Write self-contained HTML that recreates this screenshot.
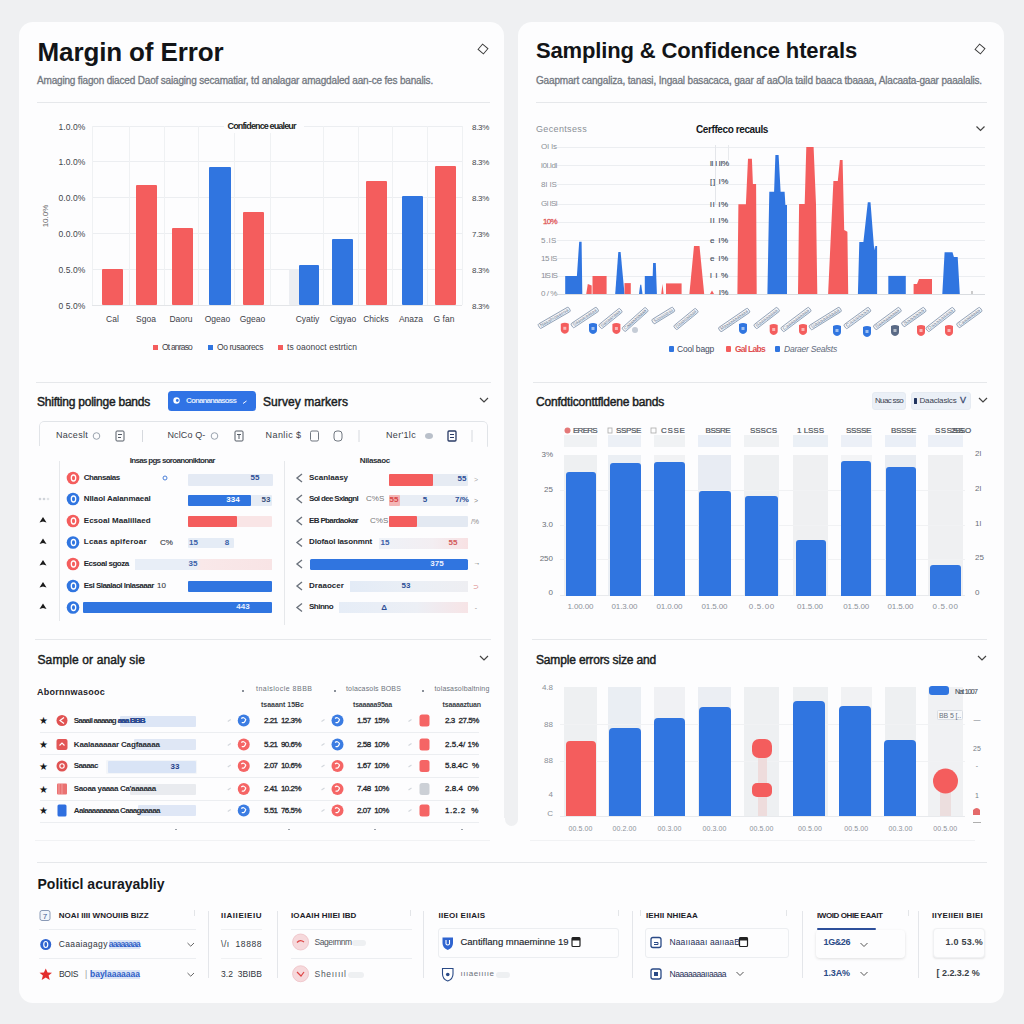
<!DOCTYPE html>
<html><head><meta charset="utf-8"><title>Dashboard</title><style>
html,body{margin:0;padding:0;width:1024px;height:1024px;overflow:hidden;background:#eff0f2;font-family:"Liberation Sans",sans-serif;}
.a{position:absolute}
.t{white-space:pre}
svg{position:absolute;left:0;top:0;overflow:visible}
</style></head><body>
<div class="a" style="left:19.00px;top:22.00px;width:485.00px;height:981.00px;background:#fdfdfe;border-radius:14px 14px 0 14px;"></div>
<div class="a" style="left:518.00px;top:22.00px;width:486.00px;height:981.00px;background:#fdfdfe;border-radius:14px 14px 14px 0px;"></div>
<div class="a" style="left:498.00px;top:818.00px;width:26.00px;height:185.00px;background:#fdfdfe;"></div>
<div class="a" style="left:504.50px;top:600.00px;width:13.50px;height:226.00px;background:#eff0f2;border-radius:7px;"></div>
<div class="a t" style="left:37.50px;top:38.99px;font:bold 26px/26px 'Liberation Sans',sans-serif;color:#121417;letter-spacing:-0.120px;">Margin of Error</div>
<div class="a t" style="left:37.00px;top:75.53px;font:normal 10px/10px 'Liberation Sans',sans-serif;color:#737881;letter-spacing:-0.173px;-webkit-text-stroke:0.3px #737881;">Amaging fiagon diaced Daof saiaging secamatiar, td analagar amagdaled aan-ce fes banalis.</div>
<svg width="1024" height="1024"><rect x="479.5" y="45.5" width="7" height="7" transform="rotate(40 483 49)" fill="none" stroke="#3a3a3a" stroke-width="0.95"/></svg>
<div class="a" style="left:37.00px;top:101.50px;width:453.00px;height:1.00px;background:#e6e8eb;"></div>
<div class="a" style="left:92.00px;top:125.50px;width:370.00px;height:1.00px;background:#eceef1;"></div>
<div class="a" style="left:92.00px;top:160.50px;width:370.00px;height:1.00px;background:#eceef1;"></div>
<div class="a" style="left:92.00px;top:196.50px;width:370.00px;height:1.00px;background:#eceef1;"></div>
<div class="a" style="left:92.00px;top:232.50px;width:370.00px;height:1.00px;background:#eceef1;"></div>
<div class="a" style="left:92.00px;top:268.50px;width:370.00px;height:1.00px;background:#eceef1;"></div>
<div class="a" style="left:92.00px;top:304.50px;width:370.00px;height:1.00px;background:#e3e5e8;"></div>
<div class="a" style="left:91.50px;top:126.00px;width:1.00px;height:179.00px;background:#eff1f3;"></div>
<div class="a" style="left:129.00px;top:126.00px;width:1.00px;height:179.00px;background:#eff1f3;"></div>
<div class="a" style="left:163.50px;top:126.00px;width:1.00px;height:179.00px;background:#eff1f3;"></div>
<div class="a" style="left:198.00px;top:126.00px;width:1.00px;height:179.00px;background:#eff1f3;"></div>
<div class="a" style="left:233.50px;top:126.00px;width:1.00px;height:179.00px;background:#eff1f3;"></div>
<div class="a" style="left:269.50px;top:126.00px;width:1.00px;height:179.00px;background:#eff1f3;"></div>
<div class="a" style="left:323.25px;top:126.00px;width:1.00px;height:179.00px;background:#eff1f3;"></div>
<div class="a" style="left:358.25px;top:126.00px;width:1.00px;height:179.00px;background:#eff1f3;"></div>
<div class="a" style="left:392.00px;top:126.00px;width:1.00px;height:179.00px;background:#eff1f3;"></div>
<div class="a" style="left:427.00px;top:126.00px;width:1.00px;height:179.00px;background:#eff1f3;"></div>
<div class="a" style="left:461.50px;top:126.00px;width:1.00px;height:179.00px;background:#eff1f3;"></div>
<div class="a t" style="left:-514.50px;width:600px;text-align:right;top:123.30px;font:normal 8.5px/8.5px 'Liberation Sans',sans-serif;color:#42464c;letter-spacing:0.089px;margin-right:-0.089px;">1.0.0%</div>
<div class="a t" style="left:-514.50px;width:600px;text-align:right;top:158.30px;font:normal 8.5px/8.5px 'Liberation Sans',sans-serif;color:#42464c;letter-spacing:0.089px;margin-right:-0.089px;">1.0.0%</div>
<div class="a t" style="left:-514.50px;width:600px;text-align:right;top:194.30px;font:normal 8.5px/8.5px 'Liberation Sans',sans-serif;color:#42464c;letter-spacing:0.089px;margin-right:-0.089px;">0.0.0%</div>
<div class="a t" style="left:-514.50px;width:600px;text-align:right;top:230.30px;font:normal 8.5px/8.5px 'Liberation Sans',sans-serif;color:#42464c;letter-spacing:0.089px;margin-right:-0.089px;">0.0.0%</div>
<div class="a t" style="left:-514.50px;width:600px;text-align:right;top:266.30px;font:normal 8.5px/8.5px 'Liberation Sans',sans-serif;color:#42464c;letter-spacing:0.089px;margin-right:-0.089px;">0.5.0%</div>
<div class="a t" style="left:-514.50px;width:600px;text-align:right;top:302.30px;font:normal 8.5px/8.5px 'Liberation Sans',sans-serif;color:#42464c;letter-spacing:0.089px;margin-right:-0.089px;">0 5.0%</div>
<div class="a t" style="left:472.00px;top:123.73px;font:normal 8px/8px 'Liberation Sans',sans-serif;color:#42464c;letter-spacing:-0.309px;">8.3%</div>
<div class="a t" style="left:472.00px;top:158.73px;font:normal 8px/8px 'Liberation Sans',sans-serif;color:#42464c;letter-spacing:-0.309px;">8.3%</div>
<div class="a t" style="left:472.00px;top:194.73px;font:normal 8px/8px 'Liberation Sans',sans-serif;color:#42464c;letter-spacing:-0.309px;">8.3%</div>
<div class="a t" style="left:472.00px;top:230.73px;font:normal 8px/8px 'Liberation Sans',sans-serif;color:#42464c;letter-spacing:-0.309px;">7.3%</div>
<div class="a t" style="left:472.00px;top:266.73px;font:normal 8px/8px 'Liberation Sans',sans-serif;color:#42464c;letter-spacing:-0.309px;">8.3%</div>
<div class="a t" style="left:472.00px;top:302.73px;font:normal 8px/8px 'Liberation Sans',sans-serif;color:#42464c;letter-spacing:-0.309px;">8.3%</div>
<div class="a t" style="left:-254.00px;width:600px;text-align:center;top:212.23px;font:normal 8px/8px 'Liberation Sans',sans-serif;color:#666;transform:rotate(-90deg);">10.0%</div>
<div class="a" style="left:224.00px;top:120.00px;width:80.00px;height:13.00px;background:#fdfdfe;"></div>
<div class="a t" style="left:-38.00px;width:600px;text-align:center;top:122.38px;font:bold 9px/9px 'Liberation Sans',sans-serif;color:#1c1f24;letter-spacing:-0.863px;text-indent:-0.863px;">Confidence eualeur</div>
<div class="a" style="left:102.00px;top:269.00px;width:20.50px;height:36.00px;background:#f45d5d;border-radius:1px;"></div>
<div class="a" style="left:136.00px;top:185.00px;width:21.00px;height:120.00px;background:#f45d5d;border-radius:1px;"></div>
<div class="a" style="left:172.00px;top:228.00px;width:21.00px;height:77.00px;background:#f45d5d;border-radius:1px;"></div>
<div class="a" style="left:208.50px;top:167.00px;width:22.00px;height:138.00px;background:#3075e0;border-radius:1px;"></div>
<div class="a" style="left:242.50px;top:212.00px;width:21.50px;height:93.00px;background:#f45d5d;border-radius:1px;"></div>
<div class="a" style="left:288.75px;top:269.00px;width:10.25px;height:36.00px;background:#eceef2;border-radius:1px;"></div>
<div class="a" style="left:299.00px;top:264.50px;width:20.00px;height:40.50px;background:#3075e0;border-radius:1px;"></div>
<div class="a" style="left:331.50px;top:239.00px;width:21.00px;height:66.00px;background:#3075e0;border-radius:1px;"></div>
<div class="a" style="left:365.50px;top:180.50px;width:21.50px;height:124.50px;background:#f45d5d;border-radius:1px;"></div>
<div class="a" style="left:401.50px;top:196.00px;width:21.50px;height:109.00px;background:#3075e0;border-radius:1px;"></div>
<div class="a" style="left:434.50px;top:166.00px;width:21.50px;height:139.00px;background:#f45d5d;border-radius:1px;"></div>
<div class="a t" style="left:-187.50px;width:600px;text-align:center;top:315.30px;font:normal 8.5px/8.5px 'Liberation Sans',sans-serif;color:#3d4249;">Cal</div>
<div class="a t" style="left:-154.00px;width:600px;text-align:center;top:315.30px;font:normal 8.5px/8.5px 'Liberation Sans',sans-serif;color:#3d4249;">Sgoa</div>
<div class="a t" style="left:-119.00px;width:600px;text-align:center;top:315.30px;font:normal 8.5px/8.5px 'Liberation Sans',sans-serif;color:#3d4249;">Daoru</div>
<div class="a t" style="left:-82.50px;width:600px;text-align:center;top:315.30px;font:normal 8.5px/8.5px 'Liberation Sans',sans-serif;color:#3d4249;">Ogeao</div>
<div class="a t" style="left:-47.50px;width:600px;text-align:center;top:315.30px;font:normal 8.5px/8.5px 'Liberation Sans',sans-serif;color:#3d4249;">Ggeao</div>
<div class="a t" style="left:7.50px;width:600px;text-align:center;top:315.30px;font:normal 8.5px/8.5px 'Liberation Sans',sans-serif;color:#3d4249;">Cyatiy</div>
<div class="a t" style="left:43.00px;width:600px;text-align:center;top:315.30px;font:normal 8.5px/8.5px 'Liberation Sans',sans-serif;color:#3d4249;">Cigyao</div>
<div class="a t" style="left:76.00px;width:600px;text-align:center;top:315.30px;font:normal 8.5px/8.5px 'Liberation Sans',sans-serif;color:#3d4249;">Chicks</div>
<div class="a t" style="left:111.00px;width:600px;text-align:center;top:315.30px;font:normal 8.5px/8.5px 'Liberation Sans',sans-serif;color:#3d4249;">Anaza</div>
<div class="a t" style="left:144.00px;width:600px;text-align:center;top:315.30px;font:normal 8.5px/8.5px 'Liberation Sans',sans-serif;color:#3d4249;">G fan</div>
<div class="a" style="left:153.00px;top:345.00px;width:5.00px;height:5.00px;background:#f45d5d;"></div>
<div class="a t" style="left:162.00px;top:343.30px;font:normal 8.5px/8.5px 'Liberation Sans',sans-serif;color:#3d4249;letter-spacing:-0.814px;">Ot anraso</div>
<div class="a" style="left:208.00px;top:345.00px;width:5.00px;height:5.00px;background:#3075e0;"></div>
<div class="a t" style="left:217.00px;top:343.30px;font:normal 8.5px/8.5px 'Liberation Sans',sans-serif;color:#3d4249;letter-spacing:-0.419px;">Oo rusaorecs</div>
<div class="a" style="left:278.00px;top:345.00px;width:5.00px;height:5.00px;background:#f45d5d;"></div>
<div class="a t" style="left:287.00px;top:343.30px;font:normal 8.5px/8.5px 'Liberation Sans',sans-serif;color:#3d4249;letter-spacing:0.053px;">ts oaonoct estrticn</div>
<div class="a t" style="left:536.00px;top:40.38px;font:bold 22px/22px 'Liberation Sans',sans-serif;color:#121417;letter-spacing:-0.144px;">Sampling &amp; Confidence hterals</div>
<div class="a t" style="left:536.00px;top:75.53px;font:normal 10px/10px 'Liberation Sans',sans-serif;color:#737881;letter-spacing:-0.166px;-webkit-text-stroke:0.3px #737881;">Gaapmart cangaliza, tanasi, Ingaal basacaca, gaar af aaOla taild baaca tbaaaa, Alacaata-gaar paaalalis.</div>
<svg width="1024" height="1024"><rect x="976.5" y="45.5" width="7" height="7" transform="rotate(40 980 49)" fill="none" stroke="#3a3a3a" stroke-width="0.95"/></svg>
<div class="a" style="left:536.00px;top:101.50px;width:451.00px;height:1.00px;background:#e6e8eb;"></div>
<div class="a t" style="left:536.00px;top:125.38px;font:normal 9px/9px 'Liberation Sans',sans-serif;color:#8a8f96;letter-spacing:0.347px;">Gecentsess</div>
<div class="a t" style="left:696.00px;top:124.53px;font:bold 10px/10px 'Liberation Sans',sans-serif;color:#15181c;letter-spacing:-0.398px;">Cerffeco recauls</div>
<svg width="1024" height="1024"><path d="M976.5 126.5 L980.5 130.5 L984.5 126.5" fill="none" stroke="#444" stroke-width="1.2"/></svg>
<div class="a" style="left:557.00px;top:146.50px;width:428.00px;height:1.00px;background:#eceef1;"></div>
<div class="a" style="left:557.00px;top:165.00px;width:428.00px;height:1.00px;background:#eceef1;"></div>
<div class="a" style="left:557.00px;top:184.00px;width:428.00px;height:1.00px;background:#eceef1;"></div>
<div class="a" style="left:557.00px;top:203.50px;width:428.00px;height:1.00px;background:#eceef1;"></div>
<div class="a" style="left:557.00px;top:221.50px;width:428.00px;height:1.00px;background:#eceef1;"></div>
<div class="a" style="left:557.00px;top:240.00px;width:428.00px;height:1.00px;background:#eceef1;"></div>
<div class="a" style="left:557.00px;top:257.80px;width:428.00px;height:1.00px;background:#eceef1;"></div>
<div class="a" style="left:557.00px;top:275.50px;width:428.00px;height:1.00px;background:#eceef1;"></div>
<div class="a" style="left:557.00px;top:293.50px;width:428.00px;height:1.00px;background:#d9dce0;"></div>
<div class="a" style="left:714.80px;top:145.00px;width:1.00px;height:60.00px;background:#e4e6ea;"></div>
<div class="a" style="left:728.20px;top:145.00px;width:1.00px;height:15.00px;background:#e8eaed;"></div>
<div class="a t" style="left:-43.00px;width:600px;text-align:right;top:143.23px;font:normal 8px/8px 'Liberation Sans',sans-serif;color:#8a8f96;">Ol ls</div>
<div class="a t" style="left:-43.00px;width:600px;text-align:right;top:161.73px;font:normal 8px/8px 'Liberation Sans',sans-serif;color:#8a8f96;letter-spacing:-0.319px;margin-right:0.319px;">l0l.ldl</div>
<div class="a t" style="left:-43.00px;width:600px;text-align:right;top:180.73px;font:normal 8px/8px 'Liberation Sans',sans-serif;color:#8a8f96;letter-spacing:0.087px;margin-right:-0.087px;">8l lS</div>
<div class="a t" style="left:-43.00px;width:600px;text-align:right;top:200.23px;font:normal 8px/8px 'Liberation Sans',sans-serif;color:#8a8f96;letter-spacing:-0.521px;margin-right:0.521px;">Gl lSl</div>
<div class="a t" style="left:-43.00px;width:600px;text-align:right;top:218.23px;font:normal 8px/8px 'Liberation Sans',sans-serif;color:#e05a5a;letter-spacing:-0.672px;-webkit-text-stroke:0.3px #e05a5a;margin-right:0.672px;">10%</div>
<div class="a t" style="left:-43.00px;width:600px;text-align:right;top:236.73px;font:normal 8px/8px 'Liberation Sans',sans-serif;color:#8a8f96;letter-spacing:0.551px;margin-right:-0.551px;">5.lS</div>
<div class="a t" style="left:-43.00px;width:600px;text-align:right;top:254.53px;font:normal 8px/8px 'Liberation Sans',sans-serif;color:#8a8f96;letter-spacing:-0.447px;margin-right:0.447px;">15 lS</div>
<div class="a t" style="left:-43.00px;width:600px;text-align:right;top:272.23px;font:normal 8px/8px 'Liberation Sans',sans-serif;color:#8a8f96;letter-spacing:-0.818px;margin-right:0.818px;">1lS lS</div>
<div class="a t" style="left:-43.00px;width:600px;text-align:right;top:290.23px;font:normal 8px/8px 'Liberation Sans',sans-serif;color:#8a8f96;letter-spacing:-0.447px;margin-right:0.447px;">0 / %</div>
<div class="a t" style="left:129.00px;width:600px;text-align:right;top:160.23px;font:normal 8px/8px 'Liberation Sans',sans-serif;color:#47505f;letter-spacing:-0.182px;-webkit-text-stroke:0.15px #47505f;margin-right:0.182px;">ll l ll%</div>
<div class="a t" style="left:129.00px;width:600px;text-align:right;top:177.93px;font:normal 8px/8px 'Liberation Sans',sans-serif;color:#47505f;letter-spacing:0.688px;-webkit-text-stroke:0.15px #47505f;margin-right:-0.688px;">[] l%</div>
<div class="a t" style="left:129.00px;width:600px;text-align:right;top:200.53px;font:normal 8px/8px 'Liberation Sans',sans-serif;color:#47505f;letter-spacing:0.866px;-webkit-text-stroke:0.15px #47505f;margin-right:-0.866px;">ll l%</div>
<div class="a t" style="left:129.00px;width:600px;text-align:right;top:217.43px;font:normal 8px/8px 'Liberation Sans',sans-serif;color:#47505f;letter-spacing:0.866px;-webkit-text-stroke:0.15px #47505f;margin-right:-0.866px;">ll l%</div>
<div class="a t" style="left:129.00px;width:600px;text-align:right;top:236.73px;font:normal 8px/8px 'Liberation Sans',sans-serif;color:#47505f;letter-spacing:0.859px;-webkit-text-stroke:0.15px #47505f;margin-right:-0.859px;">e l%</div>
<div class="a t" style="left:129.00px;width:600px;text-align:right;top:255.23px;font:normal 8px/8px 'Liberation Sans',sans-serif;color:#47505f;letter-spacing:0.859px;-webkit-text-stroke:0.15px #47505f;margin-right:-0.859px;">e l%</div>
<div class="a t" style="left:129.00px;width:600px;text-align:right;top:272.23px;font:normal 8px/8px 'Liberation Sans',sans-serif;color:#47505f;letter-spacing:0.775px;-webkit-text-stroke:0.15px #47505f;margin-right:-0.775px;">l l %</div>
<div class="a t" style="left:129.00px;width:600px;text-align:right;top:289.23px;font:normal 8px/8px 'Liberation Sans',sans-serif;color:#47505f;letter-spacing:0.555px;-webkit-text-stroke:0.15px #47505f;margin-right:-0.555px;">l%</div>
<svg width="1024" height="1024"><polygon points="565.2,294 565.2,276.1 576.9,276.1 579.2,241.7 581.6,241.7 582.3,294" fill="#3075e0"/><polygon points="586.25,294 587.8,283.9 591.7,285.5 591.7,294" fill="#f45d5d"/><polygon points="592.5,294 592.5,276 606.6,276 606.6,294" fill="#f45d5d"/><polygon points="615.2,294 618.3,251.9 620.6,251.9 624.5,294" fill="#3075e0"/><polygon points="624.5,294 624.5,283.1 630.8,283.1 630.8,294" fill="#f45d5d"/><polygon points="639,294 640.2,284.7 641.25,284.7 642.5,294" fill="#3075e0"/><polygon points="644.8,294 644.8,276 652.7,276 653.1,263.1 655.8,263.1 656.9,294" fill="#3075e0"/><polygon points="661.25,294 662.5,284 663.6,294" fill="#f45d5d"/><polygon points="666,294 666,283.4 681.6,283.4 681.6,294" fill="#f45d5d"/><polygon points="689.4,294 694,246 699.5,246 704.2,294" fill="#f45d5d"/><polygon points="710,294 712,290.5 714,294" fill="#f45d5d"/><polygon points="737.4,294 738.4,204.3 745.9,204.3 748,158.8 751.9,158.8 752.9,184.1 756.1,184.1 756.7,294" fill="#f45d5d"/><polygon points="767.4,294 769.3,191.7 774.1,191.7 775.4,155.1 778.6,155.1 780.6,191.7 784.6,191.7 785.4,205.1 787,205.1 787,294" fill="#3075e0"/><polygon points="798,294 799.1,204 804.7,204 806.3,147.1 813.6,147.1 816,204.3 817.3,294" fill="#f45d5d"/><polygon points="828.1,294 833.4,180.9 837.8,180.9 839.9,160 842.6,160 844.2,230 847.4,231.7 848.2,294" fill="#f45d5d"/><polygon points="857.9,294 859.3,242 863.4,242 867.8,202.3 870.5,202.3 873.9,246.1 874.9,250.2 875.3,246.1 877.1,246.1 877.1,294" fill="#3075e0"/><polygon points="888.3,294 888.3,275.9 905.8,275.9 905.8,294" fill="#3075e0"/><polygon points="913.6,294 913.6,284.1 917,284.1 919,279.1 932,279.1 932,294" fill="#f45d5d"/><polygon points="942.3,294 944.6,252.2 952.5,252.2 953.9,257 957.7,257 959.8,294" fill="#3075e0"/><path d="M972 291 V294" stroke="#999" stroke-width="1"/></svg>
<svg width="1024" height="1024"><g transform="translate(539,326.6) rotate(-30.0)"><rect x="0" y="-2.5" width="35.2" height="5" rx="1.2" fill="#f3f6fa" stroke="#8797ad" stroke-width="0.8"/><text x="1.5" y="1.4" font-family="Liberation Sans" font-size="4.5" fill="#6f7f96" textLength="32.2" lengthAdjust="spacingAndGlyphs">Nasalnoaaeoa</text></g><g transform="translate(572,326) rotate(-33.6)"><rect x="0" y="-2.5" width="30.7" height="5" rx="1.2" fill="#f3f6fa" stroke="#8797ad" stroke-width="0.8"/><text x="1.5" y="1.4" font-family="Liberation Sans" font-size="4.5" fill="#6f7f96" textLength="27.7" lengthAdjust="spacingAndGlyphs">Saaoaraasaa</text></g><g transform="translate(600,327) rotate(-39.0)"><rect x="0" y="-2.5" width="27.0" height="5" rx="1.2" fill="#f3f6fa" stroke="#8797ad" stroke-width="0.8"/><text x="1.5" y="1.4" font-family="Liberation Sans" font-size="4.5" fill="#6f7f96" textLength="24.0" lengthAdjust="spacingAndGlyphs">Sasaaxaaa</text></g><g transform="translate(623.4,330) rotate(-41.8)"><rect x="0" y="-2.5" width="31.5" height="5" rx="1.2" fill="#f3f6fa" stroke="#8797ad" stroke-width="0.8"/><text x="1.5" y="1.4" font-family="Liberation Sans" font-size="4.5" fill="#6f7f96" textLength="28.5" lengthAdjust="spacingAndGlyphs">Caaaaasaaaa</text></g><g transform="translate(652.7,322) rotate(-31.6)"><rect x="0" y="-2.5" width="24.8" height="5" rx="1.2" fill="#f3f6fa" stroke="#8797ad" stroke-width="0.8"/><text x="1.5" y="1.4" font-family="Liberation Sans" font-size="4.5" fill="#6f7f96" textLength="21.8" lengthAdjust="spacingAndGlyphs">Saaaaasaa</text></g><g transform="translate(675,328) rotate(-39.3)"><rect x="0" y="-2.5" width="28.4" height="5" rx="1.2" fill="#f3f6fa" stroke="#8797ad" stroke-width="0.8"/><text x="1.5" y="1.4" font-family="Liberation Sans" font-size="4.5" fill="#6f7f96" textLength="25.4" lengthAdjust="spacingAndGlyphs">Daaaoaaaaa</text></g><g transform="translate(719.5,330) rotate(-34.3)"><rect x="0" y="-2.5" width="35.5" height="5" rx="1.2" fill="#f3f6fa" stroke="#8797ad" stroke-width="0.8"/><text x="1.5" y="1.4" font-family="Liberation Sans" font-size="4.5" fill="#6f7f96" textLength="32.5" lengthAdjust="spacingAndGlyphs">Maaaaaaaaaaa</text></g><g transform="translate(755,327) rotate(-37.6)"><rect x="0" y="-2.5" width="29.5" height="5" rx="1.2" fill="#f3f6fa" stroke="#8797ad" stroke-width="0.8"/><text x="1.5" y="1.4" font-family="Liberation Sans" font-size="4.5" fill="#6f7f96" textLength="26.5" lengthAdjust="spacingAndGlyphs">Saaaaaaaa</text></g><g transform="translate(782,330) rotate(-36.9)"><rect x="0" y="-2.5" width="35.0" height="5" rx="1.2" fill="#f3f6fa" stroke="#8797ad" stroke-width="0.8"/><text x="1.5" y="1.4" font-family="Liberation Sans" font-size="4.5" fill="#6f7f96" textLength="32.0" lengthAdjust="spacingAndGlyphs">Caaaaaaaaaa</text></g><g transform="translate(810,328) rotate(-31.9)"><rect x="0" y="-2.5" width="35.9" height="5" rx="1.2" fill="#f3f6fa" stroke="#8797ad" stroke-width="0.8"/><text x="1.5" y="1.4" font-family="Liberation Sans" font-size="4.5" fill="#6f7f96" textLength="32.9" lengthAdjust="spacingAndGlyphs">Saaaaaaaaa</text></g><g transform="translate(845,327) rotate(-36.0)"><rect x="0" y="-2.5" width="30.6" height="5" rx="1.2" fill="#f3f6fa" stroke="#8797ad" stroke-width="0.8"/><text x="1.5" y="1.4" font-family="Liberation Sans" font-size="4.5" fill="#6f7f96" textLength="27.6" lengthAdjust="spacingAndGlyphs">Caaaaaaa</text></g><g transform="translate(874.5,328) rotate(-36.4)"><rect x="0" y="-2.5" width="32.0" height="5" rx="1.2" fill="#f3f6fa" stroke="#8797ad" stroke-width="0.8"/><text x="1.5" y="1.4" font-family="Liberation Sans" font-size="4.5" fill="#6f7f96" textLength="29.0" lengthAdjust="spacingAndGlyphs">Saaaaaaaaa</text></g><g transform="translate(902.6,325) rotate(-35.5)"><rect x="0" y="-2.5" width="27.5" height="5" rx="1.2" fill="#f3f6fa" stroke="#8797ad" stroke-width="0.8"/><text x="1.5" y="1.4" font-family="Liberation Sans" font-size="4.5" fill="#6f7f96" textLength="24.5" lengthAdjust="spacingAndGlyphs">Saaaaaa</text></g><g transform="translate(927,330) rotate(-37.9)"><rect x="0" y="-2.5" width="34.2" height="5" rx="1.2" fill="#f3f6fa" stroke="#8797ad" stroke-width="0.8"/><text x="1.5" y="1.4" font-family="Liberation Sans" font-size="4.5" fill="#6f7f96" textLength="31.2" lengthAdjust="spacingAndGlyphs">Daaaaaaaaa</text></g><g transform="translate(957.7,326) rotate(-36.1)"><rect x="0" y="-2.5" width="28.8" height="5" rx="1.2" fill="#f3f6fa" stroke="#8797ad" stroke-width="0.8"/><text x="1.5" y="1.4" font-family="Liberation Sans" font-size="4.5" fill="#6f7f96" textLength="25.8" lengthAdjust="spacingAndGlyphs">Caaaaaaaa</text></g><path d="M560.8 323.8 Q564.8 321.8 568.8 323.8 L568.8 329.8 Q568.8 332.8 564.8 333.8 Q560.8 332.8 560.8 329.8 Z" fill="#f45d5d"/><path d="M563.3 326.8 h3 v3 h-3z" fill="#fff" opacity="0.55"/><path d="M589 324 Q593 322 597 324 L597 330 Q597 333 593 334 Q589 333 589 330 Z" fill="#3075e0"/><path d="M591.5 327 h3 v3 h-3z" fill="#fff" opacity="0.55"/><path d="M612.4 324 Q616.4 322 620.4 324 L620.4 330 Q620.4 333 616.4 334 Q612.4 333 612.4 330 Z" fill="#f45d5d"/><path d="M614.9 327 h3 v3 h-3z" fill="#fff" opacity="0.55"/><path d="M739 324 Q743 322 747 324 L747 330 Q747 333 743 334 Q739 333 739 330 Z" fill="#3075e0"/><path d="M741.5 327 h3 v3 h-3z" fill="#fff" opacity="0.55"/><path d="M769.7 325 Q773.7 323 777.7 325 L777.7 331 Q777.7 334 773.7 335 Q769.7 334 769.7 331 Z" fill="#f45d5d"/><path d="M772.2 328 h3 v3 h-3z" fill="#fff" opacity="0.55"/><path d="M799 325 Q803 323 807 325 L807 331 Q807 334 803 335 Q799 334 799 331 Z" fill="#f45d5d"/><path d="M801.5 328 h3 v3 h-3z" fill="#fff" opacity="0.55"/><path d="M833 326 Q837 324 841 326 L841 332 Q841 335 837 336 Q833 335 833 332 Z" fill="#3075e0"/><path d="M835.5 329 h3 v3 h-3z" fill="#fff" opacity="0.55"/><path d="M863 327 Q867 325 871 327 L871 333 Q871 336 867 337 Q863 336 863 333 Z" fill="#3075e0"/><path d="M865.5 330 h3 v3 h-3z" fill="#fff" opacity="0.55"/><path d="M891 326 Q895 324 899 326 L899 332 Q899 335 895 336 Q891 335 891 332 Z" fill="#5a6a86"/><path d="M893.5 329 h3 v3 h-3z" fill="#fff" opacity="0.55"/><path d="M917 326 Q921 324 925 326 L925 332 Q925 335 921 336 Q917 335 917 332 Z" fill="#f45d5d"/><path d="M919.5 329 h3 v3 h-3z" fill="#fff" opacity="0.55"/><path d="M945 326 Q949 324 953 326 L953 332 Q953 335 949 336 Q945 335 945 332 Z" fill="#f45d5d"/><path d="M947.5 329 h3 v3 h-3z" fill="#fff" opacity="0.55"/><circle cx="635" cy="330" r="3" fill="#c5ccd6"/></svg>
<div class="a" style="left:668.50px;top:346.00px;width:5.00px;height:6.00px;background:#3075e0;border-radius:1px;"></div>
<div class="a t" style="left:677.00px;top:344.80px;font:normal 8.5px/8.5px 'Liberation Sans',sans-serif;color:#3f4b5e;letter-spacing:-0.196px;">Cool bagp</div>
<div class="a" style="left:726.00px;top:346.00px;width:5.00px;height:6.00px;background:#f45d5d;border-radius:1px;"></div>
<div class="a t" style="left:735.00px;top:344.80px;font:bold 8.5px/8.5px 'Liberation Sans',sans-serif;color:#e04e4e;letter-spacing:-0.738px;">Gal Labs</div>
<div class="a" style="left:774.50px;top:346.00px;width:5.00px;height:6.00px;background:#3075e0;border-radius:1px;"></div>
<div class="a t" style="left:784.00px;top:344.80px;font:normal 8.5px/8.5px 'Liberation Sans',sans-serif;color:#5f6b7c;letter-spacing:-0.230px;font-style:italic;">Daraer Sealsts</div>
<div class="a" style="left:36.00px;top:381.50px;width:455.00px;height:1.00px;background:#e6e8eb;"></div>
<div class="a t" style="left:37.00px;top:395.84px;font:normal 12px/12px 'Liberation Sans',sans-serif;color:#1a1d22;letter-spacing:-0.232px;-webkit-text-stroke:0.45px #1a1d22;">Shifting polinge bands</div>
<div class="a" style="left:167.50px;top:391.00px;width:88.00px;height:19.50px;background:#3073e5;border-radius:3.5px;"></div>
<svg width="1024" height="1024"><circle cx="176.5" cy="400.5" r="3.2" fill="#fff"/><circle cx="177.3" cy="400.5" r="1.4" fill="#3073e5"/><path d="M243 403.5 L246.5 401" stroke="#fff" stroke-width="1" fill="none"/></svg>
<div class="a t" style="left:186.00px;top:396.73px;font:bold 8px/8px 'Liberation Sans',sans-serif;color:#dfe8fb;letter-spacing:-0.874px;">Conananaasoss</div>
<div class="a t" style="left:263.00px;top:395.84px;font:normal 12px/12px 'Liberation Sans',sans-serif;color:#1a1d22;letter-spacing:0.069px;-webkit-text-stroke:0.45px #1a1d22;">Survey markers</div>
<svg width="1024" height="1024"><path d="M480 398 L484 402 L488 398" fill="none" stroke="#444" stroke-width="1.2"/></svg>
<div class="a" style="left:39px;top:421px;width:447px;height:40px;border:1px solid #e1e4e8;border-bottom:none;border-radius:5px 5px 0 0;-webkit-mask-image:linear-gradient(#000 60%,transparent 70%);"></div>
<div class="a" style="left:20.00px;top:447.00px;width:484.00px;height:14.00px;background:#fdfdfe;"></div>
<div class="a" style="left:38.00px;top:446.00px;width:2.00px;height:1.00px;background:#fdfdfe;"></div>
<div class="a t" style="left:56.00px;top:431.38px;font:normal 9px/9px 'Liberation Sans',sans-serif;color:#3c4148;letter-spacing:0.283px;">Naceslt</div>
<div class="a t" style="left:167.50px;top:431.38px;font:normal 9px/9px 'Liberation Sans',sans-serif;color:#3c4148;letter-spacing:0.123px;">NclCo Q-</div>
<div class="a t" style="left:265.50px;top:431.38px;font:normal 9px/9px 'Liberation Sans',sans-serif;color:#3c4148;letter-spacing:0.436px;">Nanlic $</div>
<div class="a t" style="left:386.00px;top:431.38px;font:normal 9px/9px 'Liberation Sans',sans-serif;color:#3c4148;letter-spacing:0.324px;">Ner'1lc</div>
<svg width="1024" height="1024" fill="none" stroke-width="1"><circle cx="96.5" cy="436" r="3.3" stroke="#9aa3ae"/><rect x="116" y="431" width="8" height="10" rx="1" stroke="#555c66"/><path d="M118 434.5h4M118 437.5h3" stroke="#555c66"/><circle cx="214.5" cy="436" r="3.3" stroke="#9aa3ae"/><rect x="235" y="431" width="8" height="10" rx="1" stroke="#555c66"/><path d="M237 434.5h4M239 434v5" stroke="#555c66"/><rect x="310.5" y="431" width="8" height="10" rx="1.5" stroke="#707780"/><rect x="334" y="431" width="8" height="10" rx="3" stroke="#707780"/><ellipse cx="429" cy="436" rx="4" ry="3" fill="#b9c0ca" stroke="none"/><rect x="448" y="431" width="8" height="10" rx="1" stroke="#2a3b66" stroke-width="1.3"/><path d="M450 434.5h4M450 437.5h4" stroke="#2a3b66"/><path d="M142.5 430v12M359 430v12M472 430v12" stroke="#d6d9de"/></svg>
<div class="a" style="left:58.50px;top:461.00px;width:1.00px;height:160.00px;background:#e6e8eb;"></div>
<div class="a" style="left:284.00px;top:461.00px;width:1.00px;height:164.00px;background:#e6e8eb;"></div>
<div class="a t" style="left:-127.50px;width:600px;text-align:center;top:457.23px;font:bold 8px/8px 'Liberation Sans',sans-serif;color:#2b2f35;letter-spacing:-0.690px;text-indent:-0.690px;">Insas pgs soroanoniktonar</div>
<div class="a t" style="left:75.00px;width:600px;text-align:center;top:457.23px;font:bold 8px/8px 'Liberation Sans',sans-serif;color:#2b2f35;letter-spacing:-0.363px;text-indent:-0.363px;">Nilasaoc</div>
<svg width="1024" height="1024"><circle cx="73" cy="478" r="6.3" fill="#f45d5d"/><ellipse cx="73.5" cy="478" rx="2.2" ry="3" fill="none" stroke="#fff" stroke-width="1.3"/><circle cx="73" cy="499" r="6.3" fill="#3075e0"/><ellipse cx="73.5" cy="499" rx="2.2" ry="3" fill="none" stroke="#fff" stroke-width="1.3"/><circle cx="73" cy="521" r="6.3" fill="#f45d5d"/><ellipse cx="73.5" cy="521" rx="2.2" ry="3" fill="none" stroke="#fff" stroke-width="1.3"/><circle cx="73" cy="542.5" r="6.3" fill="#3075e0"/><ellipse cx="73.5" cy="542.5" rx="2.2" ry="3" fill="none" stroke="#fff" stroke-width="1.3"/><circle cx="73" cy="564" r="6.3" fill="#f45d5d"/><ellipse cx="73.5" cy="564" rx="2.2" ry="3" fill="none" stroke="#fff" stroke-width="1.3"/><circle cx="73" cy="586" r="6.3" fill="#3075e0"/><ellipse cx="73.5" cy="586" rx="2.2" ry="3" fill="none" stroke="#fff" stroke-width="1.3"/><circle cx="73" cy="607.5" r="6.3" fill="#3075e0"/><ellipse cx="73.5" cy="607.5" rx="2.2" ry="3" fill="none" stroke="#fff" stroke-width="1.3"/><path d="M43 517 L46.5 522.5 L43 521.5 L39.5 522.5 Z" fill="#1a1a1a"/><path d="M43 538.5 L46.5 544.0 L43 543.0 L39.5 544.0 Z" fill="#1a1a1a"/><path d="M43 560 L46.5 565.5 L43 564.5 L39.5 565.5 Z" fill="#1a1a1a"/><path d="M43 582 L46.5 587.5 L43 586.5 L39.5 587.5 Z" fill="#1a1a1a"/><path d="M43 603.5 L46.5 609.0 L43 608.0 L39.5 609.0 Z" fill="#1a1a1a"/><circle cx="40" cy="499" r="1.3" fill="#cfd3d9"/><circle cx="44" cy="499" r="1.3" fill="#cfd3d9"/><circle cx="48" cy="499" r="1.3" fill="#e0e3e7"/><path d="M302 474 L297 478 L302 482" fill="none" stroke="#6b727c" stroke-width="1.4"/><path d="M302 495 L297 499 L302 503" fill="none" stroke="#6b727c" stroke-width="1.4"/><path d="M302 517 L297 521 L302 525" fill="none" stroke="#6b727c" stroke-width="1.4"/><path d="M302 538.5 L297 542.5 L302 546.5" fill="none" stroke="#6b727c" stroke-width="1.4"/><path d="M302 560 L297 564 L302 568" fill="none" stroke="#6b727c" stroke-width="1.4"/><path d="M302 582 L297 586 L302 590" fill="none" stroke="#6b727c" stroke-width="1.4"/><path d="M302 603.5 L297 607.5 L302 611.5" fill="none" stroke="#6b727c" stroke-width="1.4"/></svg>
<div class="a t" style="left:83.75px;top:473.73px;font:bold 8px/8px 'Liberation Sans',sans-serif;color:#23272d;letter-spacing:-0.448px;">Chansaias</div>
<div class="a t" style="left:83.75px;top:494.73px;font:bold 8px/8px 'Liberation Sans',sans-serif;color:#23272d;letter-spacing:-0.070px;">Nllaol Aalanmaeal</div>
<div class="a t" style="left:83.75px;top:516.73px;font:bold 8px/8px 'Liberation Sans',sans-serif;color:#23272d;letter-spacing:0.043px;">Ecsoal Maalillaed</div>
<div class="a t" style="left:83.75px;top:538.23px;font:bold 8px/8px 'Liberation Sans',sans-serif;color:#23272d;letter-spacing:0.257px;">Lcaas apiferoar</div>
<div class="a t" style="left:83.75px;top:559.73px;font:bold 8px/8px 'Liberation Sans',sans-serif;color:#23272d;letter-spacing:-0.474px;">Ecsoal sgoza</div>
<div class="a t" style="left:83.75px;top:581.73px;font:bold 8px/8px 'Liberation Sans',sans-serif;color:#23272d;letter-spacing:-0.518px;">Esl Slaalaol lnlasaaar</div>
<div class="a t" style="left:160.00px;top:538.73px;font:normal 8px/8px 'Liberation Sans',sans-serif;color:#3f444b;-webkit-text-stroke:0.15px #3f444b;">C%</div>
<div class="a t" style="left:157.00px;top:582.23px;font:normal 8px/8px 'Liberation Sans',sans-serif;color:#3f444b;-webkit-text-stroke:0.15px #3f444b;">10</div>
<svg width="1024" height="1024"><circle cx="165" cy="478" r="2" fill="none" stroke="#4a7fd8" stroke-width="1"/></svg>
<div class="a" style="left:188.00px;top:473.50px;width:84.50px;height:12.00px;background:#e4eaf4;border-radius:1px;"></div>
<div class="a t" style="left:-45.00px;width:600px;text-align:center;top:474.23px;font:bold 8px/8px 'Liberation Sans',sans-serif;color:#2c4e96;">55</div>
<div class="a" style="left:188.00px;top:494.50px;width:84.00px;height:11.00px;background:#e6ecf5;border-radius:1px;"></div>
<div class="a" style="left:188.00px;top:494.50px;width:62.50px;height:11.00px;background:#3075e0;border-radius:1px;"></div>
<div class="a t" style="left:-67.00px;width:600px;text-align:center;top:495.73px;font:bold 8px/8px 'Liberation Sans',sans-serif;color:#fff;">334</div>
<div class="a t" style="left:-34.00px;width:600px;text-align:center;top:495.73px;font:bold 8px/8px 'Liberation Sans',sans-serif;color:#3a4f7a;">53</div>
<div class="a" style="left:188.00px;top:516.00px;width:84.00px;height:11.00px;background:#f9e5e6;border-radius:1px;"></div>
<div class="a" style="left:188.00px;top:516.00px;width:48.50px;height:11.00px;background:#f45d5d;border-radius:1px;"></div>
<div class="a" style="left:188.00px;top:538.00px;width:45.75px;height:10.00px;background:#e5ecf6;border-radius:1px;"></div>
<div class="a t" style="left:-106.50px;width:600px;text-align:center;top:539.23px;font:bold 8px/8px 'Liberation Sans',sans-serif;color:#3a5fa8;">15</div>
<div class="a t" style="left:-73.00px;width:600px;text-align:center;top:539.23px;font:bold 8px/8px 'Liberation Sans',sans-serif;color:#3a5fa8;">8</div>
<div class="a" style="left:135px;top:558.75px;width:137px;height:11.25px;background:linear-gradient(90deg,#e8eef7 0%,#e8eef7 44%,#f9e8e9 48%,#f8e4e5 100%);"></div>
<div class="a t" style="left:-107.00px;width:600px;text-align:center;top:560.23px;font:bold 8px/8px 'Liberation Sans',sans-serif;color:#3a5fa8;">35</div>
<div class="a" style="left:188.00px;top:580.50px;width:84.00px;height:11.50px;background:#3075e0;border-radius:1px;"></div>
<div class="a" style="left:82.50px;top:602.00px;width:189.50px;height:10.50px;background:#3075e0;border-radius:1px;"></div>
<div class="a t" style="left:-57.00px;width:600px;text-align:center;top:603.23px;font:bold 8px/8px 'Liberation Sans',sans-serif;color:#e8efff;">443</div>
<div class="a t" style="left:309.00px;top:473.73px;font:bold 8px/8px 'Liberation Sans',sans-serif;color:#23272d;letter-spacing:-0.016px;">Scanlaasy</div>
<div class="a t" style="left:309.00px;top:494.73px;font:bold 8px/8px 'Liberation Sans',sans-serif;color:#23272d;letter-spacing:-0.676px;">Sol dee Sxlagnl</div>
<div class="a t" style="left:309.00px;top:516.73px;font:bold 8px/8px 'Liberation Sans',sans-serif;color:#23272d;letter-spacing:-0.643px;">EB Pbardaokar</div>
<div class="a t" style="left:309.00px;top:538.23px;font:bold 8px/8px 'Liberation Sans',sans-serif;color:#23272d;letter-spacing:-0.118px;">Dlofaol lasonmnt</div>
<div class="a t" style="left:309.00px;top:581.73px;font:bold 8px/8px 'Liberation Sans',sans-serif;color:#23272d;letter-spacing:0.039px;">Draaocer</div>
<div class="a t" style="left:309.00px;top:603.23px;font:bold 8px/8px 'Liberation Sans',sans-serif;color:#23272d;letter-spacing:-0.518px;">Shinno</div>
<div class="a t" style="left:366.00px;top:495.23px;font:normal 8px/8px 'Liberation Sans',sans-serif;color:#777;">C%S</div>
<div class="a t" style="left:370.00px;top:517.23px;font:normal 8px/8px 'Liberation Sans',sans-serif;color:#777;">C%S</div>
<div class="a" style="left:389.00px;top:473.75px;width:78.50px;height:11.75px;background:#e6ebf3;border-radius:1px;"></div>
<div class="a" style="left:389.00px;top:473.75px;width:43.50px;height:11.75px;background:#f45d5d;border-radius:1px;"></div>
<div class="a t" style="left:162.00px;width:600px;text-align:center;top:474.73px;font:bold 8px/8px 'Liberation Sans',sans-serif;color:#2c4e96;">55</div>
<div class="a t" style="left:176.00px;width:600px;text-align:center;top:475.57px;font:normal 7px/7px 'Liberation Sans',sans-serif;color:#aaa;">&gt;</div>
<div class="a" style="left:389.00px;top:494.50px;width:78.50px;height:11.00px;background:#e8edf5;border-radius:1px;"></div>
<div class="a" style="left:389.00px;top:494.50px;width:11.00px;height:11.00px;background:#f4b6b6;border-radius:1px;"></div>
<div class="a t" style="left:94.00px;width:600px;text-align:center;top:495.73px;font:bold 8px/8px 'Liberation Sans',sans-serif;color:#d84545;">55</div>
<div class="a t" style="left:125.00px;width:600px;text-align:center;top:495.73px;font:bold 8px/8px 'Liberation Sans',sans-serif;color:#2c4e96;">5</div>
<div class="a t" style="left:162.00px;width:600px;text-align:center;top:495.73px;font:bold 8px/8px 'Liberation Sans',sans-serif;color:#2c4e96;">7/%</div>
<div class="a t" style="left:176.00px;width:600px;text-align:center;top:496.57px;font:normal 7px/7px 'Liberation Sans',sans-serif;color:#888;">&gt;</div>
<div class="a" style="left:389.00px;top:516.00px;width:79.00px;height:11.00px;background:#e3e9f2;border-radius:1px;"></div>
<div class="a" style="left:389.00px;top:516.00px;width:28.00px;height:11.00px;background:#f45d5d;border-radius:1px;"></div>
<div class="a t" style="left:175.00px;width:600px;text-align:center;top:518.07px;font:normal 7px/7px 'Liberation Sans',sans-serif;color:#888;">/%</div>
<div class="a" style="left:378.75px;top:537.5px;width:88.75px;height:11px;background:linear-gradient(90deg,#eef2f8 0%,#f3eef2 60%,#f8e1e3 100%);"></div>
<div class="a t" style="left:85.00px;width:600px;text-align:center;top:538.73px;font:bold 8px/8px 'Liberation Sans',sans-serif;color:#3a5fa8;">15</div>
<div class="a t" style="left:153.00px;width:600px;text-align:center;top:538.73px;font:bold 8px/8px 'Liberation Sans',sans-serif;color:#d35a5a;">55</div>
<div class="a" style="left:310.00px;top:558.75px;width:157.50px;height:10.75px;background:#3075e0;border-radius:1.5px;"></div>
<div class="a t" style="left:137.00px;width:600px;text-align:center;top:560.23px;font:bold 8px/8px 'Liberation Sans',sans-serif;color:#eef3ff;">375</div>
<div class="a t" style="left:177.00px;width:600px;text-align:center;top:559.07px;font:normal 7px/7px 'Liberation Sans',sans-serif;color:#666;">→</div>
<div class="a" style="left:350px;top:580.5px;width:117.5px;height:11px;background:linear-gradient(90deg,#e3ebf6 0%,#ebeff5 60%,#eeeef2 100%);"></div>
<div class="a t" style="left:106.00px;width:600px;text-align:center;top:582.23px;font:bold 8px/8px 'Liberation Sans',sans-serif;color:#2c4e96;">53</div>
<div class="a t" style="left:176.00px;width:600px;text-align:center;top:582.57px;font:normal 7px/7px 'Liberation Sans',sans-serif;color:#d98080;">⊃</div>
<div class="a" style="left:338.75px;top:602px;width:128.75px;height:11px;background:linear-gradient(90deg,#e6edf7 0%,#eceff5 60%,#f7e4e6 100%);"></div>
<div class="a t" style="left:84.00px;width:600px;text-align:center;top:603.73px;font:bold 8px/8px 'Liberation Sans',sans-serif;color:#2c4e96;">Δ</div>
<div class="a t" style="left:176.00px;width:600px;text-align:center;top:603.57px;font:normal 7px/7px 'Liberation Sans',sans-serif;color:#999;">-</div>
<div class="a" style="left:35.00px;top:639.00px;width:456.00px;height:1.00px;background:#e6e8eb;"></div>
<div class="a" style="left:532.50px;top:381.50px;width:454.50px;height:1.00px;background:#e6e8eb;"></div>
<div class="a t" style="left:536.00px;top:395.84px;font:normal 12px/12px 'Liberation Sans',sans-serif;color:#1a1d22;letter-spacing:-0.199px;-webkit-text-stroke:0.45px #1a1d22;">Confdticonttfldene bands</div>
<div class="a" style="left:872.00px;top:392.00px;width:34.00px;height:17.50px;background:#ebf0f7;border-radius:3px;border:1px solid #e6ebf2;box-sizing:border-box;"></div>
<div class="a t" style="left:875.00px;top:396.73px;font:normal 8px/8px 'Liberation Sans',sans-serif;color:#3a4252;letter-spacing:-0.670px;">Nuac sso</div>
<div class="a" style="left:910.50px;top:392.00px;width:60.50px;height:17.50px;background:#ebf0f7;border-radius:3px;border:1px solid #e6ebf2;box-sizing:border-box;"></div>
<div class="a" style="left:914.00px;top:397.50px;width:3.00px;height:6.50px;background:#20335e;border-radius:0.5px;"></div>
<div class="a t" style="left:919.50px;top:396.73px;font:normal 8px/8px 'Liberation Sans',sans-serif;color:#3a4252;letter-spacing:-0.169px;">Daaclaslcs</div>
<div class="a t" style="left:663.00px;width:600px;text-align:center;top:396.38px;font:normal 9px/9px 'Liberation Sans',sans-serif;color:#3a4a6e;-webkit-text-stroke:0.3px #3a4a6e;">V</div>
<svg width="1024" height="1024"><path d="M979 398 L983 402 L987 398" fill="none" stroke="#444" stroke-width="1.2"/></svg>
<div class="a" style="left:564.00px;top:434.50px;width:33.00px;height:12.50px;background:#f0f2f4;"></div>
<div class="a" style="left:564.00px;top:455.00px;width:33.00px;height:140.50px;background:#eef0f2;"></div>
<div class="a" style="left:608.00px;top:434.50px;width:33.00px;height:12.50px;background:#ecf0f6;"></div>
<div class="a" style="left:608.00px;top:455.00px;width:33.00px;height:140.50px;background:#ebeff4;"></div>
<div class="a" style="left:654.00px;top:434.50px;width:31.00px;height:12.50px;background:#f0f2f4;"></div>
<div class="a" style="left:654.00px;top:455.00px;width:31.00px;height:140.50px;background:#f1f2f4;"></div>
<div class="a" style="left:698.00px;top:434.50px;width:33.00px;height:12.50px;background:#eaeff7;"></div>
<div class="a" style="left:698.00px;top:455.00px;width:33.00px;height:140.50px;background:#e8ecf3;"></div>
<div class="a" style="left:744.00px;top:434.50px;width:35.00px;height:12.50px;background:#f0f2f4;"></div>
<div class="a" style="left:744.00px;top:455.00px;width:35.00px;height:140.50px;background:#eef0f2;"></div>
<div class="a" style="left:792.50px;top:434.50px;width:35.00px;height:12.50px;background:#ebf0f6;"></div>
<div class="a" style="left:792.50px;top:455.00px;width:35.00px;height:140.50px;background:#eff0f2;"></div>
<div class="a" style="left:840.50px;top:434.50px;width:31.50px;height:12.50px;background:#ecf0f7;"></div>
<div class="a" style="left:840.50px;top:455.00px;width:31.50px;height:140.50px;background:#f3f4f6;"></div>
<div class="a" style="left:885.00px;top:434.50px;width:31.00px;height:12.50px;background:#eaeff7;"></div>
<div class="a" style="left:885.00px;top:455.00px;width:31.00px;height:140.50px;background:#e9edf3;"></div>
<div class="a" style="left:928.00px;top:434.50px;width:34.50px;height:12.50px;background:#ecf0f7;"></div>
<div class="a" style="left:928.00px;top:455.00px;width:34.50px;height:140.50px;background:#eff0f2;"></div>
<div class="a" style="left:560.00px;top:489.50px;width:405.00px;height:1.00px;background:#f1f2f4;"></div>
<div class="a" style="left:560.00px;top:524.50px;width:405.00px;height:1.00px;background:#f1f2f4;"></div>
<div class="a" style="left:560.00px;top:558.50px;width:405.00px;height:1.00px;background:#f1f2f4;"></div>
<div class="a" style="left:560.00px;top:595.00px;width:405.00px;height:1.00px;background:#e8eaed;"></div>
<div class="a" style="left:566.00px;top:472.00px;width:30.00px;height:123.50px;background:#3075e0;border-radius:3px 3px 0 0px;"></div>
<div class="a" style="left:610.00px;top:463.00px;width:30.50px;height:132.50px;background:#3075e0;border-radius:3px 3px 0 0px;"></div>
<div class="a" style="left:654.00px;top:462.00px;width:31.00px;height:133.50px;background:#3075e0;border-radius:3px 3px 0 0px;"></div>
<div class="a" style="left:698.50px;top:491.00px;width:32.50px;height:104.50px;background:#3075e0;border-radius:3px 3px 0 0px;"></div>
<div class="a" style="left:745.00px;top:496.00px;width:32.50px;height:99.50px;background:#3075e0;border-radius:3px 3px 0 0px;"></div>
<div class="a" style="left:795.50px;top:540.00px;width:30.50px;height:55.50px;background:#3075e0;border-radius:3px 3px 0 0px;"></div>
<div class="a" style="left:840.50px;top:461.00px;width:30.50px;height:134.50px;background:#3075e0;border-radius:3px 3px 0 0px;"></div>
<div class="a" style="left:885.50px;top:467.00px;width:30.00px;height:128.50px;background:#3075e0;border-radius:3px 3px 0 0px;"></div>
<div class="a" style="left:930.00px;top:564.50px;width:31.00px;height:31.00px;background:#3075e0;border-radius:3px 3px 0 0px;"></div>
<div class="a t" style="left:573.00px;top:426.73px;font:normal 8px/8px 'Liberation Sans',sans-serif;color:#4f545c;letter-spacing:-0.713px;-webkit-text-stroke:0.2px #4f545c;">ERERS</div>
<div class="a t" style="left:616.00px;top:426.73px;font:normal 8px/8px 'Liberation Sans',sans-serif;color:#4f545c;letter-spacing:-0.338px;-webkit-text-stroke:0.2px #4f545c;">SSPSE</div>
<div class="a t" style="left:661.00px;top:426.73px;font:normal 8px/8px 'Liberation Sans',sans-serif;color:#4f545c;letter-spacing:0.676px;-webkit-text-stroke:0.2px #4f545c;">CSSE</div>
<div class="a t" style="left:705.60px;top:426.73px;font:normal 8px/8px 'Liberation Sans',sans-serif;color:#4f545c;letter-spacing:-0.525px;-webkit-text-stroke:0.2px #4f545c;">BSSRE</div>
<div class="a t" style="left:750.00px;top:426.73px;font:normal 8px/8px 'Liberation Sans',sans-serif;color:#4f545c;letter-spacing:-0.025px;-webkit-text-stroke:0.2px #4f545c;">SSSCS</div>
<div class="a t" style="left:797.00px;top:426.73px;font:normal 8px/8px 'Liberation Sans',sans-serif;color:#4f545c;letter-spacing:-0.023px;-webkit-text-stroke:0.2px #4f545c;">1 LSSS</div>
<div class="a t" style="left:846.00px;top:426.73px;font:normal 8px/8px 'Liberation Sans',sans-serif;color:#4f545c;letter-spacing:-0.338px;-webkit-text-stroke:0.2px #4f545c;">SSSSE</div>
<div class="a t" style="left:891.00px;top:426.73px;font:normal 8px/8px 'Liberation Sans',sans-serif;color:#4f545c;letter-spacing:-0.338px;-webkit-text-stroke:0.2px #4f545c;">BSSSE</div>
<div class="a t" style="left:935.00px;top:426.73px;font:normal 8px/8px 'Liberation Sans',sans-serif;color:#4f545c;letter-spacing:0.463px;-webkit-text-stroke:0.2px #4f545c;">SSSSS</div>
<svg width="1024" height="1024"><circle cx="567.5" cy="430.5" r="3" fill="#e47878"/><rect x="608" y="428" width="4" height="5" fill="none" stroke="#aaa" stroke-width="0.8"/><rect x="651" y="428" width="5" height="5" fill="none" stroke="#aaa" stroke-width="0.8"/></svg>
<div class="a t" style="left:951.00px;top:426.73px;font:normal 8px/8px 'Liberation Sans',sans-serif;color:#4f545c;letter-spacing:-0.336px;-webkit-text-stroke:0.2px #4f545c;">2SSO</div>
<div class="a t" style="left:-47.00px;width:600px;text-align:right;top:450.73px;font:normal 8px/8px 'Liberation Sans',sans-serif;color:#6b7078;">3%</div>
<div class="a t" style="left:-47.00px;width:600px;text-align:right;top:486.23px;font:normal 8px/8px 'Liberation Sans',sans-serif;color:#6b7078;">25</div>
<div class="a t" style="left:-47.00px;width:600px;text-align:right;top:521.23px;font:normal 8px/8px 'Liberation Sans',sans-serif;color:#6b7078;">3.0</div>
<div class="a t" style="left:-47.00px;width:600px;text-align:right;top:555.23px;font:normal 8px/8px 'Liberation Sans',sans-serif;color:#6b7078;">250</div>
<div class="a t" style="left:-47.00px;width:600px;text-align:right;top:589.23px;font:normal 8px/8px 'Liberation Sans',sans-serif;color:#6b7078;">0</div>
<div class="a t" style="left:975.00px;top:450.23px;font:normal 8px/8px 'Liberation Sans',sans-serif;color:#6b7078;">2l</div>
<div class="a t" style="left:975.00px;top:485.23px;font:normal 8px/8px 'Liberation Sans',sans-serif;color:#6b7078;">2l</div>
<div class="a t" style="left:975.00px;top:520.23px;font:normal 8px/8px 'Liberation Sans',sans-serif;color:#6b7078;">1l</div>
<div class="a t" style="left:975.00px;top:554.23px;font:normal 8px/8px 'Liberation Sans',sans-serif;color:#6b7078;">25</div>
<div class="a t" style="left:975.00px;top:589.23px;font:normal 8px/8px 'Liberation Sans',sans-serif;color:#6b7078;">0</div>
<div class="a t" style="left:280.50px;width:600px;text-align:center;top:603.23px;font:normal 8px/8px 'Liberation Sans',sans-serif;color:#8c929a;letter-spacing:-0.100px;text-indent:-0.100px;">1.00.00</div>
<div class="a t" style="left:324.50px;width:600px;text-align:center;top:603.23px;font:normal 8px/8px 'Liberation Sans',sans-serif;color:#8c929a;letter-spacing:-0.100px;text-indent:-0.100px;">01.3.00</div>
<div class="a t" style="left:369.50px;width:600px;text-align:center;top:603.23px;font:normal 8px/8px 'Liberation Sans',sans-serif;color:#8c929a;letter-spacing:-0.100px;text-indent:-0.100px;">01.0.00</div>
<div class="a t" style="left:414.50px;width:600px;text-align:center;top:603.23px;font:normal 8px/8px 'Liberation Sans',sans-serif;color:#8c929a;letter-spacing:-0.100px;text-indent:-0.100px;">01.5.00</div>
<div class="a t" style="left:461.50px;width:600px;text-align:center;top:603.23px;font:normal 8px/8px 'Liberation Sans',sans-serif;color:#8c929a;letter-spacing:0.625px;text-indent:0.625px;">0.5.00</div>
<div class="a t" style="left:510.00px;width:600px;text-align:center;top:603.23px;font:normal 8px/8px 'Liberation Sans',sans-serif;color:#8c929a;letter-spacing:-0.100px;text-indent:-0.100px;">01.5.00</div>
<div class="a t" style="left:556.25px;width:600px;text-align:center;top:603.23px;font:normal 8px/8px 'Liberation Sans',sans-serif;color:#8c929a;letter-spacing:-0.100px;text-indent:-0.100px;">01.5.00</div>
<div class="a t" style="left:600.50px;width:600px;text-align:center;top:603.23px;font:normal 8px/8px 'Liberation Sans',sans-serif;color:#8c929a;letter-spacing:-0.100px;text-indent:-0.100px;">01.5.00</div>
<div class="a t" style="left:645.25px;width:600px;text-align:center;top:603.23px;font:normal 8px/8px 'Liberation Sans',sans-serif;color:#8c929a;letter-spacing:0.625px;text-indent:0.625px;">0.5.00</div>
<div class="a" style="left:532.00px;top:638.50px;width:455.00px;height:1.00px;background:#e6e8eb;"></div>
<div class="a t" style="left:37.50px;top:654.34px;font:normal 12px/12px 'Liberation Sans',sans-serif;color:#1a1d22;letter-spacing:0.111px;-webkit-text-stroke:0.45px #1a1d22;">Sample or analy sie</div>
<svg width="1024" height="1024"><path d="M480 656 L484 660 L488 656" fill="none" stroke="#444" stroke-width="1.2"/></svg>
<div class="a t" style="left:37.00px;top:688.38px;font:bold 9px/9px 'Liberation Sans',sans-serif;color:#1e2227;letter-spacing:0.249px;">Abornnwasooc</div>
<div class="a t" style="left:256.00px;top:685.07px;font:normal 7px/7px 'Liberation Sans',sans-serif;color:#6d737c;letter-spacing:0.498px;">tnalslocle 8BBB</div>
<div class="a t" style="left:346.00px;top:685.07px;font:normal 7px/7px 'Liberation Sans',sans-serif;color:#6d737c;letter-spacing:0.165px;">tolacasols BOBS</div>
<div class="a t" style="left:434.50px;top:685.07px;font:normal 7px/7px 'Liberation Sans',sans-serif;color:#6d737c;letter-spacing:0.167px;">tolasasolbaltning</div>
<div class="a" style="left:241.50px;top:690.00px;width:2.00px;height:1.50px;background:#8a9099;"></div>
<div class="a" style="left:334.00px;top:690.00px;width:2.00px;height:1.50px;background:#8a9099;"></div>
<div class="a" style="left:421.50px;top:690.00px;width:2.00px;height:1.50px;background:#8a9099;"></div>
<div class="a t" style="left:261.00px;top:701.07px;font:bold 7px/7px 'Liberation Sans',sans-serif;color:#3a3f46;letter-spacing:-0.017px;">tsaaant 15Bc</div>
<div class="a t" style="left:353.00px;top:701.07px;font:bold 7px/7px 'Liberation Sans',sans-serif;color:#3a3f46;letter-spacing:-0.206px;">tsaaaaa95aa</div>
<div class="a t" style="left:442.50px;top:701.07px;font:bold 7px/7px 'Liberation Sans',sans-serif;color:#3a3f46;letter-spacing:-0.143px;">tsaaaaztuan</div>
<div class="a" style="left:40.00px;top:731.50px;width:439.00px;height:1.00px;background:#eceef1;"></div>
<div class="a" style="left:40.00px;top:753.50px;width:439.00px;height:1.00px;background:#eceef1;"></div>
<div class="a" style="left:40.00px;top:776.50px;width:439.00px;height:1.00px;background:#eceef1;"></div>
<div class="a" style="left:40.00px;top:799.50px;width:439.00px;height:1.00px;background:#eceef1;"></div>
<div class="a" style="left:40.00px;top:822.00px;width:439.00px;height:1.00px;background:#eceef1;"></div>
<svg width="1024" height="1024"><text x="43" y="724.0" font-family="Liberation Sans" font-size="10" text-anchor="middle" fill="#15181c">★</text><text x="43" y="748.0" font-family="Liberation Sans" font-size="10" text-anchor="middle" fill="#15181c">★</text><text x="43" y="769.5" font-family="Liberation Sans" font-size="10" text-anchor="middle" fill="#15181c">★</text><text x="43" y="792.5" font-family="Liberation Sans" font-size="10" text-anchor="middle" fill="#15181c">★</text><text x="43" y="814.0" font-family="Liberation Sans" font-size="10" text-anchor="middle" fill="#15181c">★</text><circle cx="62" cy="720.5" r="5.5" fill="#e05252"/><path d="M64 717.5 L60 720.5 L64 723.5" fill="none" stroke="#fff" stroke-width="1.2"/><rect x="56.5" y="739" width="11" height="11" rx="2" fill="#e25656"/><path d="M59.5 745.5 L62 743 L64.5 745.5" fill="none" stroke="#fff" stroke-width="1.1"/><circle cx="62" cy="766" r="5.5" fill="#e05252"/><circle cx="62" cy="766" r="2.2" fill="none" stroke="#fff" stroke-width="1.1"/><rect x="57" y="783.5" width="10" height="11" rx="1" fill="#ea7272"/><path d="M59 784v10M62 784v10" stroke="#f6a8a8" stroke-width="0.8"/><rect x="57.5" y="804.5" width="9" height="12" rx="1.5" fill="#2f6fdf"/><circle cx="243.75" cy="720.5" r="6" fill="#3075e0" opacity="0.95"/><path d="M241.25 718.5 Q243.75 716.5 245.75 719.5 Q244.75 723.5 241.75 722.5" fill="none" stroke="#fff" stroke-width="1.2"/><path d="M230.75 719.5 L227.75 721.5" stroke="#d3d7dc" stroke-width="1.2"/><circle cx="243.75" cy="744.5" r="6" fill="#f45d5d" opacity="0.95"/><path d="M241.25 742.5 Q243.75 740.5 245.75 743.5 Q244.75 747.5 241.75 746.5" fill="none" stroke="#fff" stroke-width="1.2"/><path d="M230.75 743.5 L227.75 745.5" stroke="#d3d7dc" stroke-width="1.2"/><circle cx="243.75" cy="766" r="6" fill="#f45d5d" opacity="0.95"/><path d="M241.25 764 Q243.75 762 245.75 765 Q244.75 769 241.75 768" fill="none" stroke="#fff" stroke-width="1.2"/><path d="M230.75 765 L227.75 767" stroke="#d3d7dc" stroke-width="1.2"/><circle cx="243.75" cy="789" r="6" fill="#f45d5d" opacity="0.95"/><path d="M241.25 787 Q243.75 785 245.75 788 Q244.75 792 241.75 791" fill="none" stroke="#fff" stroke-width="1.2"/><path d="M230.75 788 L227.75 790" stroke="#d3d7dc" stroke-width="1.2"/><circle cx="243.75" cy="810.5" r="6" fill="#3075e0" opacity="0.95"/><path d="M241.25 808.5 Q243.75 806.5 245.75 809.5 Q244.75 813.5 241.75 812.5" fill="none" stroke="#fff" stroke-width="1.2"/><path d="M230.75 809.5 L227.75 811.5" stroke="#d3d7dc" stroke-width="1.2"/><circle cx="337.5" cy="720.5" r="6" fill="#3075e0" opacity="0.95"/><path d="M335.0 718.5 Q337.5 716.5 339.5 719.5 Q338.5 723.5 335.5 722.5" fill="none" stroke="#fff" stroke-width="1.2"/><path d="M324.5 719.5 L321.5 721.5" stroke="#d3d7dc" stroke-width="1.2"/><circle cx="337.5" cy="744.5" r="6" fill="#3075e0" opacity="0.95"/><path d="M335.0 742.5 Q337.5 740.5 339.5 743.5 Q338.5 747.5 335.5 746.5" fill="none" stroke="#fff" stroke-width="1.2"/><path d="M324.5 743.5 L321.5 745.5" stroke="#d3d7dc" stroke-width="1.2"/><circle cx="337.5" cy="766" r="6" fill="#f45d5d" opacity="0.95"/><path d="M335.0 764 Q337.5 762 339.5 765 Q338.5 769 335.5 768" fill="none" stroke="#fff" stroke-width="1.2"/><path d="M324.5 765 L321.5 767" stroke="#d3d7dc" stroke-width="1.2"/><circle cx="337.5" cy="789" r="6" fill="#f45d5d" opacity="0.95"/><path d="M335.0 787 Q337.5 785 339.5 788 Q338.5 792 335.5 791" fill="none" stroke="#fff" stroke-width="1.2"/><path d="M324.5 788 L321.5 790" stroke="#d3d7dc" stroke-width="1.2"/><circle cx="337.5" cy="810.5" r="6" fill="#f45d5d" opacity="0.95"/><path d="M335.0 808.5 Q337.5 806.5 339.5 809.5 Q338.5 813.5 335.5 812.5" fill="none" stroke="#fff" stroke-width="1.2"/><path d="M324.5 809.5 L321.5 811.5" stroke="#d3d7dc" stroke-width="1.2"/><rect x="419.5" y="714.5" width="10" height="12" rx="2.5" fill="#f45d5d" opacity="0.95"/><path d="M411.5 719.5 L408.5 721.5" stroke="#d3d7dc" stroke-width="1.2"/><rect x="419.5" y="738.5" width="10" height="12" rx="2.5" fill="#f45d5d" opacity="0.95"/><path d="M411.5 743.5 L408.5 745.5" stroke="#d3d7dc" stroke-width="1.2"/><rect x="419.5" y="760" width="10" height="12" rx="2.5" fill="#f45d5d" opacity="0.95"/><path d="M411.5 765 L408.5 767" stroke="#d3d7dc" stroke-width="1.2"/><rect x="419.5" y="783" width="10" height="12" rx="2.5" fill="#c9ced4" opacity="0.95"/><path d="M411.5 788 L408.5 790" stroke="#d3d7dc" stroke-width="1.2"/><rect x="419.5" y="804.5" width="10" height="12" rx="2.5" fill="#f45d5d" opacity="0.95"/><path d="M411.5 809.5 L408.5 811.5" stroke="#d3d7dc" stroke-width="1.2"/></svg>
<div class="a" style="left:120.00px;top:716.00px;width:75.75px;height:11.00px;background:#dde6f6;border-radius:1px;"></div>
<div class="a" style="left:134.00px;top:739.00px;width:61.75px;height:11.00px;background:#dfe7f5;border-radius:1px;"></div>
<div class="a" style="left:106.00px;top:760.00px;width:90.75px;height:14.00px;background:#f4f6f9;border-radius:1px;"></div>
<div class="a" style="left:108.00px;top:761.00px;width:87.75px;height:12.00px;background:#d9e4f6;border-radius:1px;"></div>
<div class="a t" style="left:-125.00px;width:600px;text-align:center;top:762.73px;font:bold 8px/8px 'Liberation Sans',sans-serif;color:#1f3f8a;">33</div>
<div class="a" style="left:130.00px;top:784.00px;width:65.75px;height:11.00px;background:#e9ebef;border-radius:1px;"></div>
<div class="a" style="left:137.50px;top:805.00px;width:58.25px;height:11.00px;background:#dfe7f6;border-radius:1px;"></div>
<div class="a t" style="left:73.75px;top:716.73px;font:bold 8px/8px 'Liberation Sans',sans-serif;color:#272b31;letter-spacing:-0.791px;">Saaail aaaaag aaa BBB</div>
<div class="a t" style="left:73.75px;top:740.73px;font:bold 8px/8px 'Liberation Sans',sans-serif;color:#272b31;letter-spacing:-0.141px;">Kaalaaaaaar Cagfaaaaa</div>
<div class="a t" style="left:73.75px;top:762.23px;font:bold 8px/8px 'Liberation Sans',sans-serif;color:#272b31;letter-spacing:-0.599px;">Saaaac</div>
<div class="a t" style="left:73.75px;top:785.23px;font:bold 8px/8px 'Liberation Sans',sans-serif;color:#272b31;letter-spacing:-0.338px;">Saoaa yaaaa Ca'aaaaaa</div>
<div class="a t" style="left:73.75px;top:806.73px;font:bold 8px/8px 'Liberation Sans',sans-serif;color:#272b31;letter-spacing:-0.651px;">Aalaaaaaaaaa Caaagaaaaa</div>
<div class="a t" style="left:118.00px;top:716.73px;font:bold 8px/8px 'Liberation Sans',sans-serif;color:#2a4ea0;letter-spacing:-0.844px;">aaa BBB</div>
<div class="a t" style="left:264.00px;top:716.93px;font:normal 8px/8px 'Liberation Sans',sans-serif;color:#23272c;letter-spacing:-0.518px;-webkit-text-stroke:0.3px #23272c;">2.21  12.3%</div>
<div class="a t" style="left:264.00px;top:740.93px;font:normal 8px/8px 'Liberation Sans',sans-serif;color:#23272c;letter-spacing:-0.518px;-webkit-text-stroke:0.3px #23272c;">5.21  90.6%</div>
<div class="a t" style="left:264.00px;top:762.43px;font:normal 8px/8px 'Liberation Sans',sans-serif;color:#23272c;letter-spacing:-0.518px;-webkit-text-stroke:0.3px #23272c;">2.07  10.6%</div>
<div class="a t" style="left:264.00px;top:785.43px;font:normal 8px/8px 'Liberation Sans',sans-serif;color:#23272c;letter-spacing:-0.518px;-webkit-text-stroke:0.3px #23272c;">2.41  10.2%</div>
<div class="a t" style="left:264.00px;top:806.93px;font:normal 8px/8px 'Liberation Sans',sans-serif;color:#23272c;letter-spacing:-0.518px;-webkit-text-stroke:0.3px #23272c;">5.51  76.5%</div>
<div class="a t" style="left:357.00px;top:716.93px;font:normal 8px/8px 'Liberation Sans',sans-serif;color:#23272c;letter-spacing:-0.448px;-webkit-text-stroke:0.3px #23272c;">1.57  15%</div>
<div class="a t" style="left:357.00px;top:740.93px;font:normal 8px/8px 'Liberation Sans',sans-serif;color:#23272c;letter-spacing:-0.448px;-webkit-text-stroke:0.3px #23272c;">2.58  10%</div>
<div class="a t" style="left:357.00px;top:762.43px;font:normal 8px/8px 'Liberation Sans',sans-serif;color:#23272c;letter-spacing:-0.448px;-webkit-text-stroke:0.3px #23272c;">1.67  10%</div>
<div class="a t" style="left:357.00px;top:785.43px;font:normal 8px/8px 'Liberation Sans',sans-serif;color:#23272c;letter-spacing:-0.448px;-webkit-text-stroke:0.3px #23272c;">7.48  10%</div>
<div class="a t" style="left:357.00px;top:806.93px;font:normal 8px/8px 'Liberation Sans',sans-serif;color:#23272c;letter-spacing:-0.448px;-webkit-text-stroke:0.3px #23272c;">2.07  10%</div>
<div class="a t" style="left:445.00px;top:716.93px;font:normal 8px/8px 'Liberation Sans',sans-serif;color:#23272c;letter-spacing:-0.425px;-webkit-text-stroke:0.3px #23272c;">2.3  27.5%</div>
<div class="a t" style="left:445.00px;top:740.93px;font:normal 8px/8px 'Liberation Sans',sans-serif;color:#23272c;letter-spacing:0.021px;-webkit-text-stroke:0.3px #23272c;">2.5.4/ 1%</div>
<div class="a t" style="left:445.00px;top:762.43px;font:normal 8px/8px 'Liberation Sans',sans-serif;color:#23272c;letter-spacing:-0.127px;-webkit-text-stroke:0.3px #23272c;">5.8.4C  %</div>
<div class="a t" style="left:445.00px;top:785.43px;font:normal 8px/8px 'Liberation Sans',sans-serif;color:#23272c;letter-spacing:0.021px;-webkit-text-stroke:0.3px #23272c;">2.8.4  0%</div>
<div class="a t" style="left:445.00px;top:806.93px;font:normal 8px/8px 'Liberation Sans',sans-serif;color:#23272c;letter-spacing:0.580px;-webkit-text-stroke:0.3px #23272c;">1.2.2  %</div>
<div class="a" style="left:175.20px;top:828.50px;width:1.60px;height:1.50px;background:#9aa0a8;"></div>
<div class="a" style="left:288.20px;top:828.50px;width:1.60px;height:1.50px;background:#9aa0a8;"></div>
<div class="a" style="left:374.20px;top:828.50px;width:1.60px;height:1.50px;background:#9aa0a8;"></div>
<div class="a" style="left:461.20px;top:828.50px;width:1.60px;height:1.50px;background:#9aa0a8;"></div>
<div class="a" style="left:193.50px;top:910.00px;width:1.00px;height:6.00px;background:#e3e5e8;"></div>
<div class="a" style="left:409.50px;top:910.00px;width:1.00px;height:6.00px;background:#e3e5e8;"></div>
<div class="a" style="left:617.50px;top:910.00px;width:1.00px;height:6.00px;background:#e3e5e8;"></div>
<div class="a" style="left:639.50px;top:910.00px;width:1.00px;height:6.00px;background:#e3e5e8;"></div>
<div class="a" style="left:785.50px;top:910.00px;width:1.00px;height:6.00px;background:#e3e5e8;"></div>
<div class="a" style="left:907.50px;top:910.00px;width:1.00px;height:6.00px;background:#e3e5e8;"></div>
<div class="a t" style="left:536.00px;top:654.34px;font:normal 12px/12px 'Liberation Sans',sans-serif;color:#1a1d22;letter-spacing:-0.154px;-webkit-text-stroke:0.45px #1a1d22;">Sample errors size and</div>
<svg width="1024" height="1024"><path d="M978 656 L982 660 L986 656" fill="none" stroke="#444" stroke-width="1.2"/></svg>
<div class="a" style="left:564.00px;top:687.00px;width:33.00px;height:129.00px;background:#eef0f2;"></div>
<div class="a" style="left:608.00px;top:687.00px;width:33.00px;height:129.00px;background:#eaeef3;"></div>
<div class="a" style="left:654.00px;top:687.00px;width:31.00px;height:129.00px;background:#f0f1f4;"></div>
<div class="a" style="left:698.00px;top:687.00px;width:33.00px;height:129.00px;background:#ebeef3;"></div>
<div class="a" style="left:744.00px;top:687.00px;width:35.00px;height:129.00px;background:#eef0f2;"></div>
<div class="a" style="left:792.50px;top:687.00px;width:35.00px;height:129.00px;background:#eef0f2;"></div>
<div class="a" style="left:840.50px;top:687.00px;width:31.50px;height:129.00px;background:#f1f2f4;"></div>
<div class="a" style="left:885.00px;top:687.00px;width:31.00px;height:129.00px;background:#eef0f2;"></div>
<div class="a" style="left:928.00px;top:687.00px;width:34.50px;height:129.00px;background:#f0f1f3;"></div>
<div class="a" style="left:560.00px;top:724.00px;width:405.00px;height:1.00px;background:#f1f2f4;"></div>
<div class="a" style="left:560.00px;top:760.50px;width:405.00px;height:1.00px;background:#f1f2f4;"></div>
<div class="a" style="left:560.00px;top:815.50px;width:405.00px;height:1.00px;background:#e8eaed;"></div>
<div class="a" style="left:566.00px;top:741.00px;width:30.00px;height:75.00px;background:#f45d5d;border-radius:4px 4px 0 0px;"></div>
<div class="a" style="left:609.00px;top:727.50px;width:31.50px;height:88.50px;background:#3075e0;border-radius:4px 4px 0 0px;"></div>
<div class="a" style="left:654.00px;top:718.00px;width:31.00px;height:98.00px;background:#3075e0;border-radius:4px 4px 0 0px;"></div>
<div class="a" style="left:698.50px;top:706.75px;width:32.50px;height:109.25px;background:#3075e0;border-radius:4px 4px 0 0px;"></div>
<div class="a" style="left:792.50px;top:701.00px;width:32.50px;height:115.00px;background:#3075e0;border-radius:4px 4px 0 0px;"></div>
<div class="a" style="left:839.00px;top:705.50px;width:32.00px;height:110.50px;background:#3075e0;border-radius:4px 4px 0 0px;"></div>
<div class="a" style="left:884.00px;top:739.50px;width:32.00px;height:76.50px;background:#3075e0;border-radius:4px 4px 0 0px;"></div>
<div class="a" style="left:757.50px;top:755.00px;width:9.25px;height:61.00px;background:#eedcdc;"></div>
<div class="a" style="left:751.75px;top:739.00px;width:20.00px;height:19.00px;background:#f45d5d;border-radius:7px;"></div>
<div class="a" style="left:751.75px;top:782.50px;width:20.00px;height:14.50px;background:#f45d5d;border-radius:5px;"></div>
<div class="a" style="left:940.00px;top:781.00px;width:11.00px;height:35.00px;background:#ecdede;"></div>
<svg width="1024" height="1024"><circle cx="945.5" cy="781" r="12.5" fill="#f45d5d"/></svg>
<div class="a" style="left:928.50px;top:686.00px;width:20.00px;height:8.50px;background:#3075e0;border-radius:3px;"></div>
<div class="a t" style="left:955.00px;top:687.57px;font:normal 7px/7px 'Liberation Sans',sans-serif;color:#4a5260;letter-spacing:-0.803px;-webkit-text-stroke:0.15px #4a5260;">Nat 1007</div>
<div class="a" style="left:936.75px;top:709.50px;width:26.25px;height:10.50px;background:#f7f8fa;border-radius:1.5px;border:1px solid #d9dde3;box-sizing:border-box;"></div>
<div class="a t" style="left:939.00px;top:711.57px;font:normal 7px/7px 'Liberation Sans',sans-serif;color:#6a717b;letter-spacing:-0.121px;">BB 5 [..</div>
<div class="a t" style="left:-47.00px;width:600px;text-align:right;top:684.23px;font:normal 8px/8px 'Liberation Sans',sans-serif;color:#8a8f96;">4.8</div>
<div class="a t" style="left:-47.00px;width:600px;text-align:right;top:720.73px;font:normal 8px/8px 'Liberation Sans',sans-serif;color:#8a8f96;">88</div>
<div class="a t" style="left:-47.00px;width:600px;text-align:right;top:757.23px;font:normal 8px/8px 'Liberation Sans',sans-serif;color:#8a8f96;">88</div>
<div class="a t" style="left:-47.00px;width:600px;text-align:right;top:791.23px;font:normal 8px/8px 'Liberation Sans',sans-serif;color:#8a8f96;">4</div>
<div class="a t" style="left:-47.00px;width:600px;text-align:right;top:810.23px;font:normal 8px/8px 'Liberation Sans',sans-serif;color:#8a8f96;">C</div>
<div class="a t" style="left:677.00px;width:600px;text-align:center;top:715.82px;font:normal 7px/7px 'Liberation Sans',sans-serif;color:#777d86;">—</div>
<div class="a t" style="left:677.00px;width:600px;text-align:center;top:745.07px;font:normal 7px/7px 'Liberation Sans',sans-serif;color:#777d86;">25</div>
<div class="a t" style="left:677.00px;width:600px;text-align:center;top:762.07px;font:normal 7px/7px 'Liberation Sans',sans-serif;color:#777d86;">-</div>
<div class="a t" style="left:677.00px;width:600px;text-align:center;top:792.07px;font:normal 7px/7px 'Liberation Sans',sans-serif;color:#777d86;">1</div>
<svg width="1024" height="1024"><path d="M973 810 Q977 806 980 810 L980 815 L973 815 Z" fill="#e46a6a"/><path d="M973 822.5h8" stroke="#999" stroke-width="0.8"/></svg>
<div class="a t" style="left:280.50px;width:600px;text-align:center;top:824.57px;font:normal 7px/7px 'Liberation Sans',sans-serif;color:#8c929a;letter-spacing:0.092px;text-indent:0.092px;">00.5.00</div>
<div class="a t" style="left:324.50px;width:600px;text-align:center;top:824.57px;font:normal 7px/7px 'Liberation Sans',sans-serif;color:#8c929a;letter-spacing:0.092px;text-indent:0.092px;">00.2.00</div>
<div class="a t" style="left:369.50px;width:600px;text-align:center;top:824.57px;font:normal 7px/7px 'Liberation Sans',sans-serif;color:#8c929a;letter-spacing:0.092px;text-indent:0.092px;">00.3.00</div>
<div class="a t" style="left:414.50px;width:600px;text-align:center;top:824.57px;font:normal 7px/7px 'Liberation Sans',sans-serif;color:#8c929a;letter-spacing:0.092px;text-indent:0.092px;">00.3.00</div>
<div class="a t" style="left:461.50px;width:600px;text-align:center;top:824.57px;font:normal 7px/7px 'Liberation Sans',sans-serif;color:#8c929a;letter-spacing:0.092px;text-indent:0.092px;">00.5.00</div>
<div class="a t" style="left:510.00px;width:600px;text-align:center;top:824.57px;font:normal 7px/7px 'Liberation Sans',sans-serif;color:#8c929a;letter-spacing:0.092px;text-indent:0.092px;">00.5.00</div>
<div class="a t" style="left:556.25px;width:600px;text-align:center;top:824.57px;font:normal 7px/7px 'Liberation Sans',sans-serif;color:#8c929a;letter-spacing:0.092px;text-indent:0.092px;">00.5.00</div>
<div class="a t" style="left:600.50px;width:600px;text-align:center;top:824.57px;font:normal 7px/7px 'Liberation Sans',sans-serif;color:#8c929a;letter-spacing:0.092px;text-indent:0.092px;">00.3.00</div>
<div class="a t" style="left:645.25px;width:600px;text-align:center;top:824.57px;font:normal 7px/7px 'Liberation Sans',sans-serif;color:#8c929a;letter-spacing:0.092px;text-indent:0.092px;">00.5.00</div>
<div class="a" style="left:35.00px;top:839.50px;width:455.00px;height:1.00px;background:#f1f2f4;"></div>
<div class="a" style="left:530.00px;top:839.50px;width:445.00px;height:1.00px;background:#f1f2f4;"></div>
<div class="a" style="left:37.00px;top:862.00px;width:950.00px;height:1.00px;background:#e6e8eb;"></div>
<div class="a t" style="left:37.50px;top:877.15px;font:bold 14px/14px 'Liberation Sans',sans-serif;color:#15181c;letter-spacing:0.008px;">Politicl acurayabliy</div>
<div class="a" style="left:207.50px;top:911.00px;width:1.00px;height:66.50px;background:#e4e6ea;"></div>
<div class="a" style="left:276.75px;top:911.00px;width:1.00px;height:66.50px;background:#e4e6ea;"></div>
<div class="a" style="left:422.70px;top:911.00px;width:1.00px;height:66.50px;background:#e4e6ea;"></div>
<div class="a" style="left:632.00px;top:911.00px;width:1.00px;height:66.50px;background:#e4e6ea;"></div>
<div class="a" style="left:801.50px;top:911.00px;width:1.00px;height:66.50px;background:#e4e6ea;"></div>
<div class="a" style="left:917.80px;top:911.00px;width:1.00px;height:66.50px;background:#e4e6ea;"></div>
<div class="a t" style="left:58.75px;top:911.73px;font:bold 8px/8px 'Liberation Sans',sans-serif;color:#1c2026;letter-spacing:0.050px;">NOAI IIII WNOUIIB BIZZ</div>
<div class="a t" style="left:221.00px;top:911.73px;font:bold 8px/8px 'Liberation Sans',sans-serif;color:#1c2026;letter-spacing:0.544px;">IIAIIEIEIU</div>
<div class="a t" style="left:291.00px;top:911.73px;font:bold 8px/8px 'Liberation Sans',sans-serif;color:#1c2026;letter-spacing:0.093px;">IOAAIH HIIEI IBD</div>
<div class="a t" style="left:438.40px;top:911.73px;font:bold 8px/8px 'Liberation Sans',sans-serif;color:#1c2026;letter-spacing:0.285px;">IIEOI EIIAIS</div>
<div class="a t" style="left:646.00px;top:911.73px;font:bold 8px/8px 'Liberation Sans',sans-serif;color:#1c2026;letter-spacing:0.111px;">IEHII NHIEAA</div>
<div class="a t" style="left:817.00px;top:911.73px;font:bold 8px/8px 'Liberation Sans',sans-serif;color:#1c2026;letter-spacing:-0.406px;">IWOID OHIE EAAIT</div>
<div class="a t" style="left:932.00px;top:911.73px;font:bold 8px/8px 'Liberation Sans',sans-serif;color:#1c2026;letter-spacing:0.277px;">IIYEIIEII BIEI</div>
<div class="a" style="left:39.00px;top:929.00px;width:157.00px;height:1.00px;background:#eceef1;"></div>
<div class="a" style="left:39.00px;top:958.25px;width:157.00px;height:1.00px;background:#eceef1;"></div>
<div class="a" style="left:221.00px;top:929.00px;width:41.00px;height:1.00px;background:#f0f1f3;"></div>
<div class="a" style="left:221.00px;top:958.25px;width:41.00px;height:1.00px;background:#f0f1f3;"></div>
<div class="a" style="left:291.00px;top:929.00px;width:121.00px;height:1.00px;background:#eceef1;"></div>
<div class="a" style="left:291.00px;top:957.50px;width:121.00px;height:1.00px;background:#eceef1;"></div>
<div class="a" style="left:437.70px;top:928.00px;width:181.30px;height:30.00px;background:#fdfdfe;border-radius:3px;border:1px solid #eceef1;box-sizing:border-box;"></div>
<div class="a" style="left:645.00px;top:928.00px;width:144.00px;height:30.00px;background:#fdfdfe;border-radius:3px;border:1px solid #eceef1;box-sizing:border-box;"></div>
<div class="a" style="left:816.00px;top:930.00px;width:89.00px;height:28.00px;background:#fdfdfe;border-radius:4px;box-shadow:0 1px 3px rgba(0,0,0,0.12);"></div>
<div class="a" style="left:817.00px;top:927.50px;width:58.60px;height:2.00px;background:#2d4f9a;border-radius:1px;"></div>
<div class="a" style="left:933.00px;top:928.00px;width:51.80px;height:30.00px;background:#fdfdfe;border-radius:4px;box-shadow:0 1px 2px rgba(0,0,0,0.10);border:1px solid #f0f1f3;box-sizing:border-box;"></div>
<svg width="1024" height="1024"><rect x="40" y="910.5" width="10" height="10" rx="2" fill="#f2f5fa" stroke="#7d8fae" stroke-width="0.9"/><text x="45" y="918.5" font-family="Liberation Sans" font-size="8" text-anchor="middle" fill="#3d5a8f">7</text><circle cx="45.75" cy="944.5" r="5.5" fill="#2f64d0"/><ellipse cx="45.75" cy="944.5" rx="2" ry="3" fill="none" stroke="#fff" stroke-width="1.2"/><path d="M45.75 968.5 L47.6 972.6 L52 972.8 L48.6 975.6 L49.8 980 L45.75 977.5 L41.7 980 L42.9 975.6 L39.5 972.8 L43.9 972.6 Z" fill="#e32d2d"/><path d="M187.5 943 L190.75 946.2 L194 943" fill="none" stroke="#666" stroke-width="1"/><path d="M187.5 973 L190.75 976.2 L194 973" fill="none" stroke="#666" stroke-width="1"/><circle cx="300.6" cy="942" r="8" fill="#f6d9dc" stroke="#eec0c5" stroke-width="0.8"/><path d="M297 942.5 Q300 939 304 942" fill="none" stroke="#d44" stroke-width="1.2"/><circle cx="300.6" cy="973.75" r="8" fill="#f6d9dc" stroke="#eec0c5" stroke-width="0.8"/><path d="M297 972 L301 976 L304 972" fill="none" stroke="#d44" stroke-width="1.2"/><path d="M442.5 937.5 H453 V943 Q453 948 447.75 950 Q442.5 948 442.5 943 Z" fill="#2f64d0"/><path d="M446 940v4q1.75 2 3.5 0v-4" fill="none" stroke="#fff" stroke-width="1.1"/><path d="M442.5 968.5 H453 V974 Q453 979 447.75 981 Q442.5 979 442.5 974 Z" fill="#fff" stroke="#2a4a86" stroke-width="1.1"/><circle cx="447.75" cy="974.5" r="1.8" fill="#2a4a86"/><rect x="572" y="937.5" width="8" height="9" rx="1" fill="#fff" stroke="#222" stroke-width="1.2"/><rect x="572" y="937.5" width="8" height="3" fill="#222"/><rect x="651" y="937.5" width="10" height="10" rx="2" fill="#fff" stroke="#2a4a86" stroke-width="1.3"/><path d="M654 942.5h4v2h-4" fill="none" stroke="#2a4a86" stroke-width="1"/><rect x="651" y="969" width="10" height="10" rx="2" fill="#fff" stroke="#2a4a86" stroke-width="1.3"/><rect x="654" y="972" width="4" height="4" fill="#2a4a86"/><rect x="739.5" y="937.5" width="8" height="9" rx="1" fill="#fff" stroke="#222" stroke-width="1.2"/><rect x="739.5" y="937.5" width="8" height="3" fill="#222"/><path d="M736.5 972 L740 975.5 L743.5 972" fill="none" stroke="#555" stroke-width="1"/><path d="M860.5 943 L864 946.5 L867.5 943" fill="none" stroke="#555" stroke-width="1"/><path d="M860.5 972 L864 975.5 L867.5 972" fill="none" stroke="#555" stroke-width="1"/></svg>
<div class="a t" style="left:58.75px;top:940.30px;font:normal 8.5px/8.5px 'Liberation Sans',sans-serif;color:#30353c;letter-spacing:0.362px;">Caaaiagagy</div>
<div class="a t" style="left:108.75px;top:940.30px;font:bold 8.5px/8.5px 'Liberation Sans',sans-serif;color:#2f5fc8;letter-spacing:-0.822px;background:#dde6f7;">aaaaaaaa</div>
<div class="a t" style="left:59.00px;top:970.30px;font:normal 8.5px/8.5px 'Liberation Sans',sans-serif;color:#30353c;letter-spacing:-0.328px;">BOIS</div>
<div class="a t" style="left:85.00px;top:970.30px;font:normal 8.5px/8.5px 'Liberation Sans',sans-serif;color:#999;">|</div>
<div class="a t" style="left:90.00px;top:970.30px;font:bold 8.5px/8.5px 'Liberation Sans',sans-serif;color:#2f5fc8;letter-spacing:-0.010px;background:#dde6f7;">baylaaaaaaa</div>
<div class="a t" style="left:221.00px;top:940.30px;font:normal 8.5px/8.5px 'Liberation Sans',sans-serif;color:#30353c;letter-spacing:0.555px;">\/ı  18888</div>
<div class="a t" style="left:221.00px;top:970.30px;font:normal 8.5px/8.5px 'Liberation Sans',sans-serif;color:#30353c;letter-spacing:0.036px;">3.2  3BIBB</div>
<div class="a t" style="left:314.60px;top:937.80px;font:normal 8.5px/8.5px 'Liberation Sans',sans-serif;color:#50555c;letter-spacing:-0.514px;">Sageımnm</div>
<div class="a" style="left:352.00px;top:940.00px;width:14.00px;height:6.00px;background:#eef0f2;border-radius:3px;"></div>
<div class="a t" style="left:314.60px;top:969.55px;font:normal 8.5px/8.5px 'Liberation Sans',sans-serif;color:#50555c;letter-spacing:0.691px;">Sheııııl</div>
<div class="a" style="left:348.00px;top:971.50px;width:16.00px;height:6.00px;background:#eef0f2;border-radius:3px;"></div>
<div class="a t" style="left:460.50px;top:937.46px;font:normal 9.5px/9.5px 'Liberation Sans',sans-serif;color:#22262c;letter-spacing:-0.012px;-webkit-text-stroke:0.15px #22262c;">Cantiflang mnaeminne 19</div>
<div class="a t" style="left:460.50px;top:970.23px;font:normal 8px/8px 'Liberation Sans',sans-serif;color:#6a7079;letter-spacing:0.509px;">ıııaeııııe</div>
<div class="a" style="left:496.00px;top:972.00px;width:14.00px;height:6.00px;background:#eef0f2;border-radius:3px;"></div>
<div class="a t" style="left:669.50px;top:938.30px;font:normal 8.5px/8.5px 'Liberation Sans',sans-serif;color:#1f3057;letter-spacing:0.116px;">Naaııaaaı aaııaaB</div>
<div class="a t" style="left:669.50px;top:969.80px;font:normal 8.5px/8.5px 'Liberation Sans',sans-serif;color:#1f3057;letter-spacing:-0.455px;">Naaaaaaaııaaaa</div>
<div class="a t" style="left:823.60px;top:938.38px;font:bold 9px/9px 'Liberation Sans',sans-serif;color:#2a4a86;letter-spacing:-0.426px;">1G&amp;26</div>
<div class="a t" style="left:823.60px;top:969.38px;font:bold 9px/9px 'Liberation Sans',sans-serif;color:#2a4a86;letter-spacing:-0.123px;">1.3A%</div>
<div class="a t" style="left:945.40px;top:938.38px;font:bold 9px/9px 'Liberation Sans',sans-serif;color:#3a3f46;letter-spacing:0.259px;">1.0 53.%</div>
<div class="a t" style="left:936.50px;top:969.38px;font:bold 9px/9px 'Liberation Sans',sans-serif;color:#3a3f46;letter-spacing:-0.030px;">[ 2.2.3.2 %</div>
</body></html>
